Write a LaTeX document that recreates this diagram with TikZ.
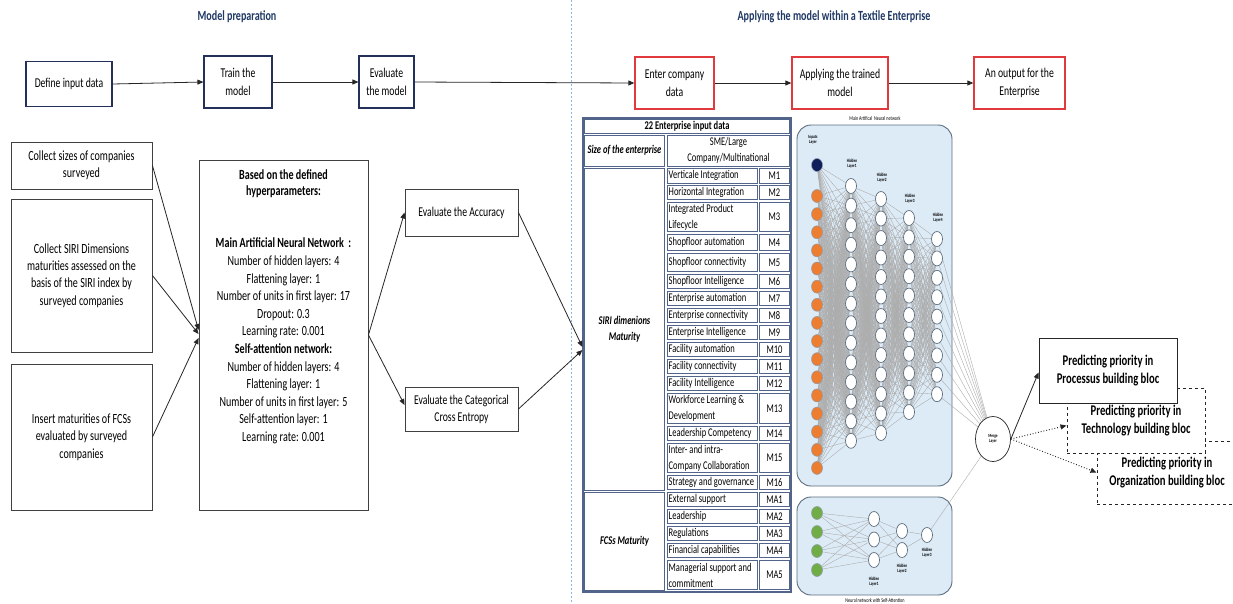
\documentclass[tikz,border=0pt]{standalone}
\usepackage{fontspec}
\setmainfont{Carlito}[FakeStretch=0.72]
\usetikzlibrary{arrows.meta,shapes.geometric}
\definecolor{navyT}{HTML}{1F3864}
\definecolor{navyB}{HTML}{22305A}
\definecolor{redB}{HTML}{E03A3E}
\definecolor{boxC}{HTML}{404040}
\definecolor{arrC}{HTML}{262626}
\definecolor{nnFill}{HTML}{DDEBF7}
\definecolor{nnEdge}{HTML}{5D6D7E}
\definecolor{orangeN}{HTML}{ED7D31}
\definecolor{greenN}{HTML}{70AD47}
\definecolor{inNavy}{HTML}{0F1F5C}
\definecolor{lineG}{HTML}{ADADAD}
\definecolor{tblC}{HTML}{52648A}
\definecolor{sepC}{HTML}{8DB8E2}
\newcommand\fTitle{\fontsize{14}{17}\selectfont\bfseries}
\newcommand\fTop{\fontsize{13.5}{18}\selectfont}
\newcommand\fLeft{\fontsize{14}{17.3}\selectfont}
\newcommand\fHp{\fontsize{14}{17.6}\selectfont}
\newcommand\fTab{\fontsize{11.8}{16}\selectfont}
\newcommand\fOut{\fontsize{14.8}{18}\selectfont\bfseries}
\newcommand\fTiny{\fontsize{4.8}{5.3}\selectfont\bfseries}
\pgfdeclarelayer{back}\pgfdeclarelayer{mid}
\pgfsetlayers{back,mid,main}
\tikzset{
  title/.style={font=\fTitle, text=navyT},
  arr/.style={draw=arrC, line width=0.8pt, -{Triangle[length=6pt,width=5pt]}},
  dotarr/.style={arr, dotted, line width=1pt},
  bluebox/.style={draw=navyB, line width=1.1pt, fill=white, align=center, font=\fTop, inner sep=1pt},
  redbox/.style={draw=redB, line width=1.3pt, fill=white, align=center, font=\fTop, inner sep=1pt},
  graybox/.style={draw=boxC, line width=0.9pt, fill=white, align=center, font=\fLeft, inner sep=1pt},
  outbox/.style={draw=arrC, line width=1pt, fill=white, align=center, font=\fOut, inner sep=1pt},
  tcell/.style={draw=tblC, line width=0.8pt, inner sep=0.5pt, outer sep=0pt, font=\fTab},
  ttext/.style={font=\fTab, align=left, anchor=west, inner sep=0pt},
  nnbox/.style={draw=nnEdge, line width=0.9pt, fill=nnFill, rounded corners=14pt},
  inode/.style={ellipse, draw=nnEdge!70, line width=0.5pt, minimum width=11pt, minimum height=13pt, inner sep=0pt},
  hnode/.style={ellipse, draw=nnEdge, fill=white, line width=0.7pt, minimum width=11pt, minimum height=15pt, inner sep=0pt},
  nnl/.style={draw=lineG, line width=0.4pt},
  tinyl/.style={font=\fTiny, align=center, inner sep=0pt},
  sepl/.style={draw=sepC, line width=0.9pt, dash pattern=on 2pt off 2pt}
}
\begin{document}
\begin{tikzpicture}[x=1pt,y=-1pt]
\useasboundingbox (0,0) rectangle (1233,603);
\begin{pgfonlayer}{back}
\fill[white] (0,0) rectangle (1233,603);
\end{pgfonlayer}

% titles and separator
\node[title] (t1) at (237,17) {Model preparation};
\node[title] (t2) at (834,17) {Applying the model within a Textile Enterprise};
\coordinate (s1) at (571,0);
\coordinate (s2) at (571,603);
\draw[sepl] (s1) -- (s2);

% top row
\node[bluebox, minimum width=86, minimum height=45] (define) at (69,84) {Define input data};
\node[bluebox, minimum width=68, minimum height=52] (train) at (238,82) {Train the\\model};
\node[bluebox, minimum width=55, minimum height=52] (evalm) at (386.5,82) {Evaluate\\the model};
\node[redbox, minimum width=79, minimum height=52] (enter) at (674.5,83) {Enter company\\data};
\node[redbox, minimum width=96, minimum height=52] (apply) at (840,83) {Applying the trained\\model};
\node[redbox, minimum width=91, minimum height=52] (output) at (1019.5,83) {An output for the\\Enterprise};
\draw[arr] (define.east) -- (train.west);
\draw[arr] (train.east) -- (evalm.west);
\draw[arr] (evalm.east) -- (enter.west);
\draw[arr] (enter.east) -- (apply.west);
\draw[arr] (apply.east) -- (output.west);

% left column
\node[graybox, minimum width=141, minimum height=47] (c1) at (81.5,165.5) {Collect sizes of companies\\surveyed};
\node[graybox, minimum width=141, minimum height=153] (c2) at (81.5,275.5) {Collect SIRI Dimensions\\maturities assessed on the\\basis of the SIRI index by\\surveyed companies};
\node[graybox, minimum width=141, minimum height=146] (c3) at (81.5,437) {Insert maturities of FCSs\\evaluated by surveyed\\companies};

% hyperparameters
\node[graybox, minimum width=169, minimum height=350] (hp) at (283.5,335) {};
\node[font=\fHp, align=center, anchor=north, inner sep=0pt] (hptext) at (283.5,169) {%
\textbf{Based on the defined}\\[-1.6pt]
\textbf{hyperparameters:}\\[35.2pt]
\textbf{Main Artificial Neural Network\ \ :}\\
Number of hidden layers: 4\\
Flattening layer: 1\\
Number of units in first layer: 17\\
Dropout: 0.3\\
Learning rate: 0.001\\
\textbf{Self-attention network:}\\
Number of hidden layers: 4\\
Flattening layer: 1\\
Number of units in first layer: 5\\
Self-attention layer: 1\\
Learning rate: 0.001};
\draw[arr] (c1.east) -- ([yshift=5pt]hp.west);
\draw[arr] (c2.east) -- ([yshift=1pt]hp.west);
\draw[arr] (c3.east) -- ([yshift=-3pt]hp.west);

% evaluation
\node[graybox, minimum width=113, minimum height=47, font=\fontsize{13.5}{17}\selectfont] (acc) at (461.5,212.5) {Evaluate the Accuracy};
\node[graybox, minimum width=113, minimum height=44, font=\fontsize{13.5}{17}\selectfont] (cce) at (461.5,409) {Evaluate the Categorical\\Cross Entropy};
\draw[arr] (hp.east) -- (acc.west);
\draw[arr] (hp.east) -- ([yshift=4pt]cce.west);

% table
\node[draw=tblC, line width=1.2pt, minimum width=208, minimum height=474, inner sep=0pt] (tbl) at (687,355) {};
\draw[arr] (acc.east) -- ([yshift=8pt]tbl.west);
\draw[arr] (cce.east) -- ([yshift=5pt]tbl.west);
\node[tcell, minimum width=205, minimum height=14] (thead) at (687,126) {\bfseries 22 Enterprise input data};
\node[tcell, minimum width=80, minimum height=31] (tsize) at (624.5,150.5) {\bfseries\itshape Size of the enterprise};
\node[tcell, minimum width=122, minimum height=31, align=center] (tsme) at (728.5,150.5) {SME/Large\\Company/Multinational};
\node[tcell, minimum width=80, minimum height=322, align=center] (tsiri) at (624.5,329) {\bfseries\itshape SIRI dimenions\\\bfseries\itshape Maturity};
\node[tcell, minimum width=80, minimum height=98] (tfcs) at (624.5,541) {\bfseries\itshape FCSs Maturity};
\foreach \t/\b/\nm/\cd [count=\i] in {
 167/184.5/{Verticale Integration}/M1,
 184.5/201/{Horizontal Integration}/M2,
 201/233/{Integrated Product\\Lifecycle}/M3,
 233/252/{Shopfloor automation}/M4,
 252/273/{Shopfloor connectivity}/M5,
 273/290/{Shopfloor Intelligence}/M6,
 290/307/{Enterprise automation}/M7,
 307/324/{Enterprise connectivity}/M8,
 324/341/{Enterprise Intelligence}/M9,
 341/358/{Facility automation}/M10,
 358/375/{Facility connectivity}/M11,
 375/392/{Facility Intelligence}/M12,
 392/425/{Workforce Learning \&\\Development}/M13,
 425/442/{Leadership Competency}/M14,
 442/474/{Inter- and intra-\\Company Collaboration}/M15,
 474/491/{Strategy and governance}/M16,
 491/508/{External support}/MA1,
 508/525/{Leadership}/MA2,
 525/542/{Regulations}/MA3,
 542/559/{Financial capabilities}/MA4,
 559/591/{Managerial support and\\commitment}/MA5}{
  \node[tcell, minimum width=90, minimum height={\b-\t-2.4}] (nm\i) at (712,{(\t+\b)/2}) {};
  \node[ttext] (nt\i) at (668.5,{(\t+\b)/2}) {\nm};
  \node[tcell, minimum width=30, minimum height={\b-\t-2.4}] (cd\i) at (774.5,{(\t+\b)/2}) {\cd};
}

% neural network boxes
\begin{pgfonlayer}{back}
\node[nnbox, minimum width=155, minimum height=361] (mainnn) at (874.5,305.5) {};
\node[nnbox, minimum width=155, minimum height=98] (sann) at (874.5,546) {};
\end{pgfonlayer}
\node[font=\fontsize{5.8}{6}\selectfont, inner sep=0pt] (mainlbl) at (875,119) {Main Artifical\ \ Neural network};
\node[font=\fontsize{5.8}{6}\selectfont, inner sep=0pt] (salbl) at (875,600) {Neural network with Self-Attention};

\node[inode, fill=inNavy] (in0) at (817,165) {};
\foreach \i in {1,...,16} \node[inode, fill=orangeN] (in\i) at (817,{196+(\i-1)*18.13}) {};
\foreach \i in {1,...,14} \node[hnode] (ha\i) at (851,{186+(\i-1)*19.6}) {};
\foreach \i in {1,...,13} \node[hnode] (hb\i) at (881,{199+(\i-1)*19.5}) {};
\foreach \i in {1,...,11} \node[hnode] (hc\i) at (909,{218+(\i-1)*19.4}) {};
\foreach \i in {1,...,9} \node[hnode] (hd\i) at (937,{239+(\i-1)*19.4}) {};

\node[tinyl] (linp) at (813,140) {Inputs\\Layer};
\node[tinyl] (lha) at (852,164) {Hidden\\Layer1};
\node[tinyl] (lhb) at (882,178) {Hidden\\Layer2};
\node[tinyl] (lhc) at (910,199) {Hidden\\Layer3};
\node[tinyl] (lhd) at (938,218) {Hidden\\Layer4};

\node[ellipse, draw=arrC, line width=0.7pt, fill=white, minimum width=35pt, minimum height=45pt, inner sep=0pt] (merge) at (993,439) {};
\node[tinyl] (lmerge) at (993,439) {Merge\\Layer};

% self-attention network
\foreach \i/\yy in {1/513,2/532,3/551,4/570} \node[inode, fill=greenN] (g\i) at (817,\yy) {};
\foreach \i/\yy in {1/519,2/539.5,3/560} \node[hnode] (sa\i) at (874,\yy) {};
\foreach \i/\yy in {1/531,2/550} \node[hnode] (sb\i) at (902,\yy) {};
\node[hnode] (sc1) at (927,535) {};
\node[tinyl] (lsa) at (874,582) {Hidden\\Layer1};
\node[tinyl] (lsb) at (902,569) {Hidden\\Layer2};
\node[tinyl] (lsc) at (927,553) {Hidden\\Layer3};

\begin{pgfonlayer}{mid}
\foreach \i in {0,...,16} \foreach \j in {1,...,14} \draw[nnl] (in\i) -- (ha\j);
\foreach \i in {1,...,14} \foreach \j in {1,...,13} \draw[nnl] (ha\i) -- (hb\j);
\foreach \i in {1,...,13} \foreach \j in {1,...,11} \draw[nnl] (hb\i) -- (hc\j);
\foreach \i in {1,...,11} \foreach \j in {1,...,9} \draw[nnl] (hc\i) -- (hd\j);
\foreach \i in {1,...,9} \draw[nnl] (hd\i) -- (merge);
\foreach \i in {1,...,4} \foreach \j in {1,...,3} \draw[nnl] (g\i) -- (sa\j);
\foreach \i in {1,...,3} \foreach \j in {1,2} \draw[nnl] (sa\i) -- (sb\j);
\foreach \i in {1,2} \draw[nnl] (sb\i) -- (sc1);
\draw[nnl] (sc1) -- (merge);
\end{pgfonlayer}

% outputs
\node[outbox, dashed, minimum width=140, minimum height=63] (org) at (1167,472.5) {Predicting priority in\\Organization building bloc};
\node[outbox, dashed, minimum width=138, minimum height=65] (tech) at (1136,420.5) {Predicting priority in\\Technology building bloc};
\node[outbox, minimum width=138, minimum height=65] (proc) at (1108,370.5) {Predicting priority in\\Processus building bloc};
\draw[arr] (merge.east) -- ([yshift=-2pt]proc.west);
\draw[dotarr] (merge.east) -- ([yshift=-5pt]tech.west);
\draw[dotarr] (merge.east) -- (org.west);
\end{tikzpicture}
\end{document}
